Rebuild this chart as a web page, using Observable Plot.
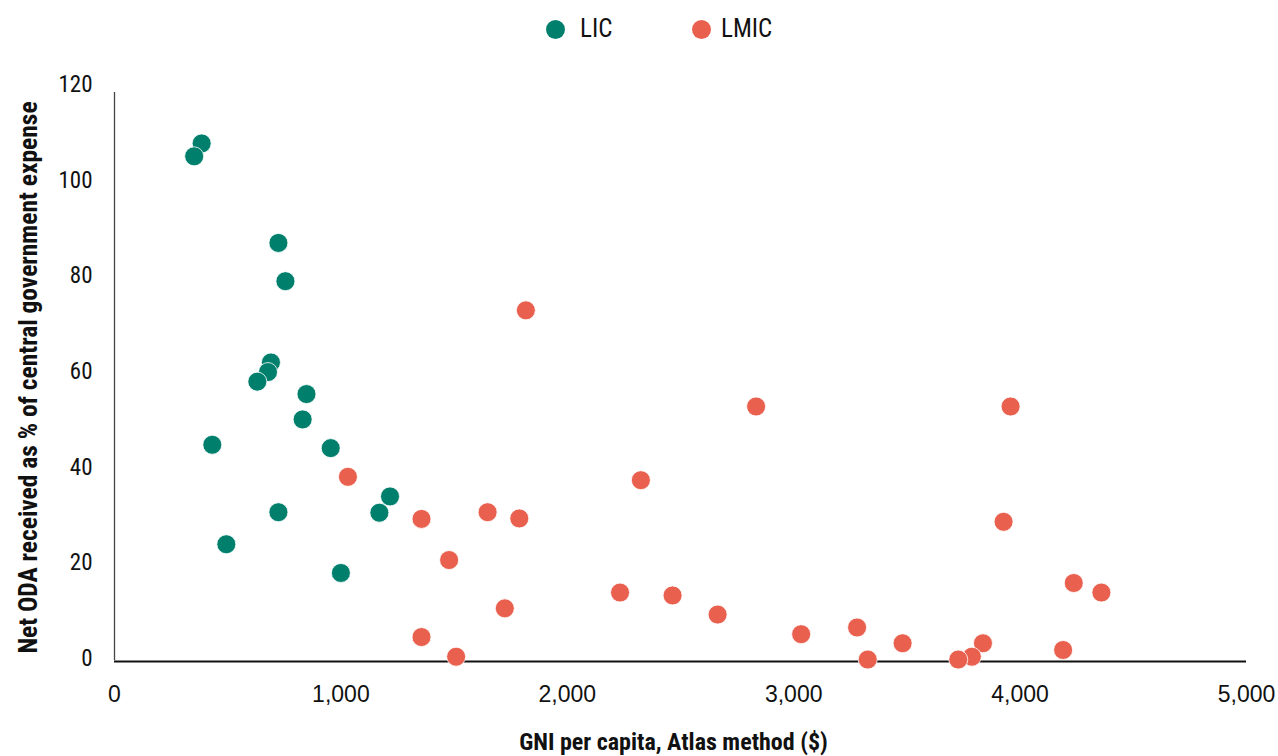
<!DOCTYPE html>
<html>
<head>
<meta charset="utf-8">
<script src="https://cdn.jsdelivr.net/npm/d3@7"></script>
<script src="https://cdn.jsdelivr.net/npm/@observablehq/plot@0.6"></script>
<style>
  html, body { margin: 0; padding: 0; background: #fff; }
  body { width: 1278px; height: 756px; overflow: hidden; }
  #legend { position: relative; height: 58px; font-family: "Liberation Sans Narrow", "Roboto Condensed", "DejaVu Sans Condensed", sans-serif; font-size: 25px; color: #111; }
  #legend .sw { position: absolute; top: 19.5px; width: 19px; height: 19px; border-radius: 50%; }
  #legend .lb { position: absolute; top: 0; height: 57px; line-height: 57px; }
  #chart svg { display: block; }
</style>
</head>
<body>
<div id="legend"></div>
<div id="chart"></div>
<script>
// ---- data ----
const groups = ["LIC", "LMIC"];
const groupColors = ["#007F6D", "#E9604F"];

// Low-income countries: GNI per capita (Atlas, $) and net ODA as % of central gov. expense
const licGni = [385, 352, 724, 755, 691, 678, 631, 848, 831, 432, 955, 1217, 1170, 724, 494, 1000];
const licOda = [108.1, 105.4, 87.3, 79.3, 62.3, 60.3, 58.3, 55.7, 50.4, 45.1, 44.4, 34.3, 30.9, 31.0, 24.3, 18.3];

// Lower-middle-income countries
const lmicGni = [1031, 1356, 1356, 1817, 2834, 2325, 1648, 1788, 1478, 2233, 2465, 1724, 2664, 1509, 3033, 3958, 3927, 4237, 4359, 3280, 3327, 3481, 3836, 3787, 3727, 4190];
const lmicOda = [38.4, 29.6, 4.9, 73.2, 53.1, 37.7, 31.0, 29.7, 21.0, 14.2, 13.6, 10.9, 9.6, 0.8, 5.5, 53.1, 29.0, 16.2, 14.2, 6.9, 0.2, 3.6, 3.6, 0.8, 0.2, 2.2];

const xTicks = [0, 1000, 2000, 3000, 4000, 5000];
const yTicks = [0, 20, 40, 60, 80, 100, 120];
const xTitle = "GNI per capita, Atlas method ($)";
const yTitle = "Net ODA received as % of central government expense";

// ---- table ----
const rows = [
  ...licGni.map((g, i) => ({group: groups[0], gni: g, oda: licOda[i]})),
  ...lmicGni.map((g, i) => ({group: groups[1], gni: g, oda: lmicOda[i]}))
];

// ---- legend ----
const legend = document.getElementById("legend");
const legendPos = [[545.5, 580], [692, 721]];
groups.forEach((g, i) => {
  const sw = document.createElement("div");
  sw.className = "sw";
  sw.style.left = legendPos[i][0] + "px";
  sw.style.background = groupColors[i];
  legend.appendChild(sw);
  const lb = document.createElement("div");
  lb.className = "lb";
  lb.style.left = legendPos[i][1] + "px";
  lb.textContent = g;
  legend.appendChild(lb);
});

const narrow = "Liberation Sans Narrow, Roboto Condensed, DejaVu Sans Condensed, sans-serif";
const regular = "Liberation Sans, Arial, Helvetica, sans-serif";

const chart = Plot.plot({
  width: 1278,
  height: 698,
  marginTop: 28,
  marginBottom: 96,
  marginLeft: 114,
  marginRight: 32,
  style: {background: "#fff", color: "#111"},
  x: {domain: [0, 5000]},
  y: {domain: [0, 120]},
  color: {domain: groups, range: groupColors},
  marks: [
    Plot.axisX({ticks: xTicks, tickSize: 0, tickPadding: 25, tickFormat: d3.format(","), fontSize: 23, fontFamily: regular, fill: "#111", label: null}),
    Plot.axisY({ticks: yTicks, tickSize: 0, tickPadding: 22, fontSize: 23, fontFamily: narrow, fill: "#111", label: null, dy: -2}),
    Plot.ruleX([0], {stroke: "#444", strokeWidth: 1.3, insetTop: 6}),
    Plot.ruleY([0], {stroke: "#111", strokeWidth: 2, dy: 1}),
    Plot.dot(rows, {x: "gni", y: "oda", fill: "group", r: 9.5, stroke: "white", strokeWidth: 0.8}),
    Plot.text([xTitle], {text: d => d, frameAnchor: "bottom", textAnchor: "middle", lineAnchor: "middle", dy: 82, dx: -7, fontSize: 24, fontWeight: "bold", fontFamily: narrow, fill: "#111"}),
    Plot.text([yTitle], {text: d => d, frameAnchor: "left", textAnchor: "middle", lineAnchor: "middle", rotate: -90, dx: -86, dy: 4, fontSize: 25.5, fontWeight: "bold", fontFamily: narrow, fill: "#111"})
  ]
});
document.getElementById("chart").appendChild(chart);
</script>
</body>
</html>
